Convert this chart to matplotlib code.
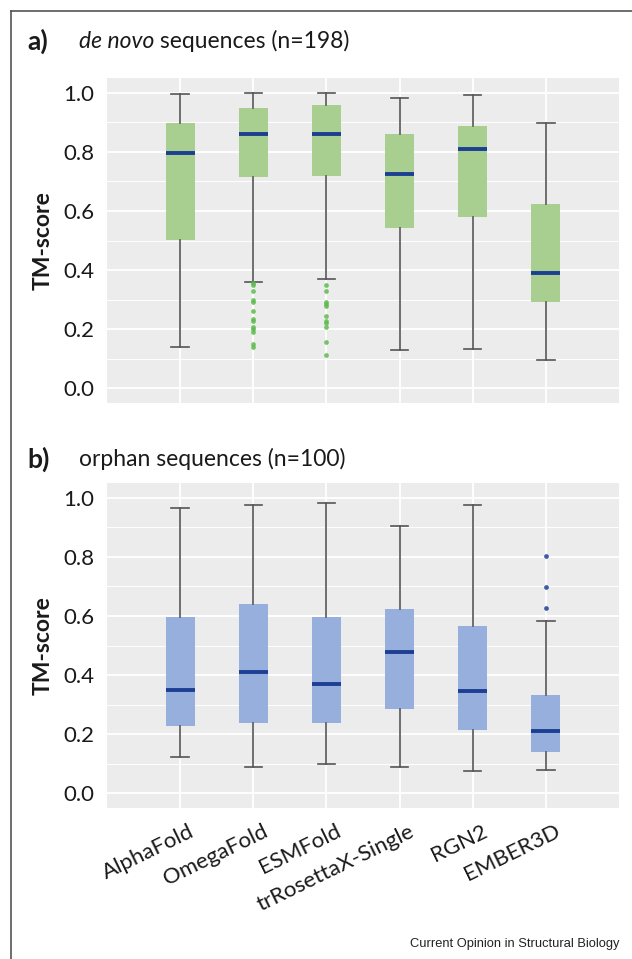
import numpy as np
import matplotlib
matplotlib.use("Agg")
import matplotlib.pyplot as plt
from matplotlib.lines import Line2D
from matplotlib.ticker import MultipleLocator
from matplotlib.transforms import ScaledTranslation

# ------------------------------ Data ------------------------------
methods = ["AlphaFold", "OmegaFold", "ESMFold", "trRosettaX-Single", "RGN2", "EMBER3D"]

# de novo sequences (n=198)
denovo_low = [0.141, 0.360, 0.369, 0.130, 0.133, 0.097]
denovo_q1 = [0.502, 0.714, 0.718, 0.541, 0.578, 0.291]
denovo_med = [0.797, 0.859, 0.860, 0.724, 0.811, 0.389]
denovo_q3 = [0.897, 0.950, 0.957, 0.859, 0.887, 0.624]
denovo_high = [0.995, 0.999, 1.000, 0.984, 0.993, 0.897]
denovo_fliers = [
    [],
    [0.355, 0.349, 0.329, 0.299, 0.293, 0.262, 0.236, 0.228, 0.208, 0.200, 0.191, 0.149, 0.140],
    [0.350, 0.330, 0.291, 0.285, 0.277, 0.245, 0.226, 0.220, 0.208, 0.155, 0.113],
    [], [], [],
]

# orphan sequences (n=100)
orphan_low = [0.121, 0.090, 0.100, 0.090, 0.076, 0.079]
orphan_q1 = [0.227, 0.238, 0.238, 0.285, 0.215, 0.141]
orphan_med = [0.349, 0.410, 0.370, 0.477, 0.346, 0.211]
orphan_q3 = [0.595, 0.639, 0.595, 0.623, 0.567, 0.333]
orphan_high = [0.967, 0.975, 0.983, 0.904, 0.974, 0.582]
orphan_fliers = [[], [], [], [], [], [0.803, 0.697, 0.628]]

# --------------------------- Style ---------------------------
plt.rcParams['font.family'] = ['Lato', 'DejaVu Sans']

BG = "#ececec"
GREEN = "#a9cf90"
GREEN_DOT = "#5dba4c"
BLUE = "#97afdc"
NAVY = "#1c3f94"
WHISK = "#555555"
TXT = "#1a1a1a"

W, H = 632, 959
fig = plt.figure(figsize=(W / 100, H / 100), dpi=100)


def stats(low, q1, med, q3, high, fliers):
    out = []
    for i in range(len(med)):
        out.append(dict(whislo=low[i], q1=q1[i], med=med[i], q3=q3[i],
                        whishi=high[i], fliers=fliers[i], label=methods[i]))
    return out


def panel(rect, st, face, flier_col, show_x):
    ax = fig.add_axes(rect)
    ax.set_facecolor(BG)
    for s in ax.spines.values():
        s.set_visible(False)
    ax.set_axisbelow(True)
    ax.yaxis.set_major_locator(MultipleLocator(0.2))
    ax.yaxis.set_minor_locator(MultipleLocator(0.1))
    ax.grid(which='major', color='white', lw=1.3)
    ax.grid(which='minor', axis='y', color='white', lw=0.7)

    ax.bxp(st, positions=np.arange(1, len(st) + 1), widths=0.4, capwidths=0.24,
           patch_artist=True, showfliers=True,
           boxprops=dict(facecolor=face, edgecolor='none', lw=0),
           medianprops=dict(color=NAVY, lw=2.8, solid_capstyle='butt'),
           whiskerprops=dict(color=WHISK, lw=1.2),
           capprops=dict(color=WHISK, lw=1.2),
           flierprops=dict(marker='o', markersize=3.4, markerfacecolor=flier_col,
                           markeredgecolor='none', alpha=0.85))

    ax.set_xlim(0, 7)
    ax.set_ylim(-0.05, 1.05)
    ax.set_yticks([0.0, 0.2, 0.4, 0.6, 0.8, 1.0])
    ax.set_yticklabels(["0.0", "0.2", "0.4", "0.6", "0.8", "1.0"])
    ax.tick_params(axis='both', which='both', length=0, labelsize=16,
                   labelcolor=TXT, pad=9)
    ax.set_ylabel("TM-score", fontsize=16.5, fontweight='bold', labelpad=7, color=TXT)
    ax.set_xticks(np.arange(1, 7))
    if show_x:
        ax.set_xticklabels(methods, rotation=26, ha='right', va='center',
                           rotation_mode='anchor', fontsize=16)
        ax.tick_params(axis='x', pad=16)
        shift = ScaledTranslation(13 / 100, 0, fig.dpi_scale_trans)
        for lbl in ax.get_xticklabels():
            lbl.set_transform(lbl.get_transform() + shift)
    else:
        ax.set_xticklabels([])
    return ax


def title(ax, y_px, letter, parts):
    y = 1 - y_px / H
    fig.text(27 / W, y, letter, fontsize=19, fontweight='bold', va='center', ha='left',
             color=TXT)
    t = fig.text(79 / W, y, parts[0][0], fontsize=16.5, va='center', ha='left',
                 style=parts[0][1], color=TXT)
    for txt, sty in parts[1:]:
        t = ax.annotate(txt, xy=(1, 0.5), xycoords=t, va='center', ha='left',
                        fontsize=16.5, style=sty, color=TXT, annotation_clip=False)


ax_a = panel([107 / W, 1 - 403 / H, 512 / W, 325 / H],
             stats(denovo_low, denovo_q1, denovo_med, denovo_q3, denovo_high, denovo_fliers),
             GREEN, GREEN_DOT, False)
title(ax_a, 41, "a)", [("de novo", 'italic'), (" sequences (n=198)", 'normal')])

ax_b = panel([107 / W, 1 - 808 / H, 512 / W, 325 / H],
             stats(orphan_low, orphan_q1, orphan_med, orphan_q3, orphan_high, orphan_fliers),
             BLUE, NAVY, True)
title(ax_b, 459, "b)", [("orphan sequences (n=100)", 'normal')])

# outer frame (top and left edges)
fig.add_artist(Line2D([11 / W, 1.0], [1 - 11 / H, 1 - 11 / H], color='#555555', lw=1.2))
fig.add_artist(Line2D([11 / W, 11 / W], [0.0, 1 - 11 / H], color='#555555', lw=1.2))

fig.text(620 / W, 1 - 944 / H, "Current Opinion in Structural Biology", fontsize=9.3,
         family='Liberation Sans', ha='right', va='center', color='#222222')

fig.savefig("out.png", dpi=100)
